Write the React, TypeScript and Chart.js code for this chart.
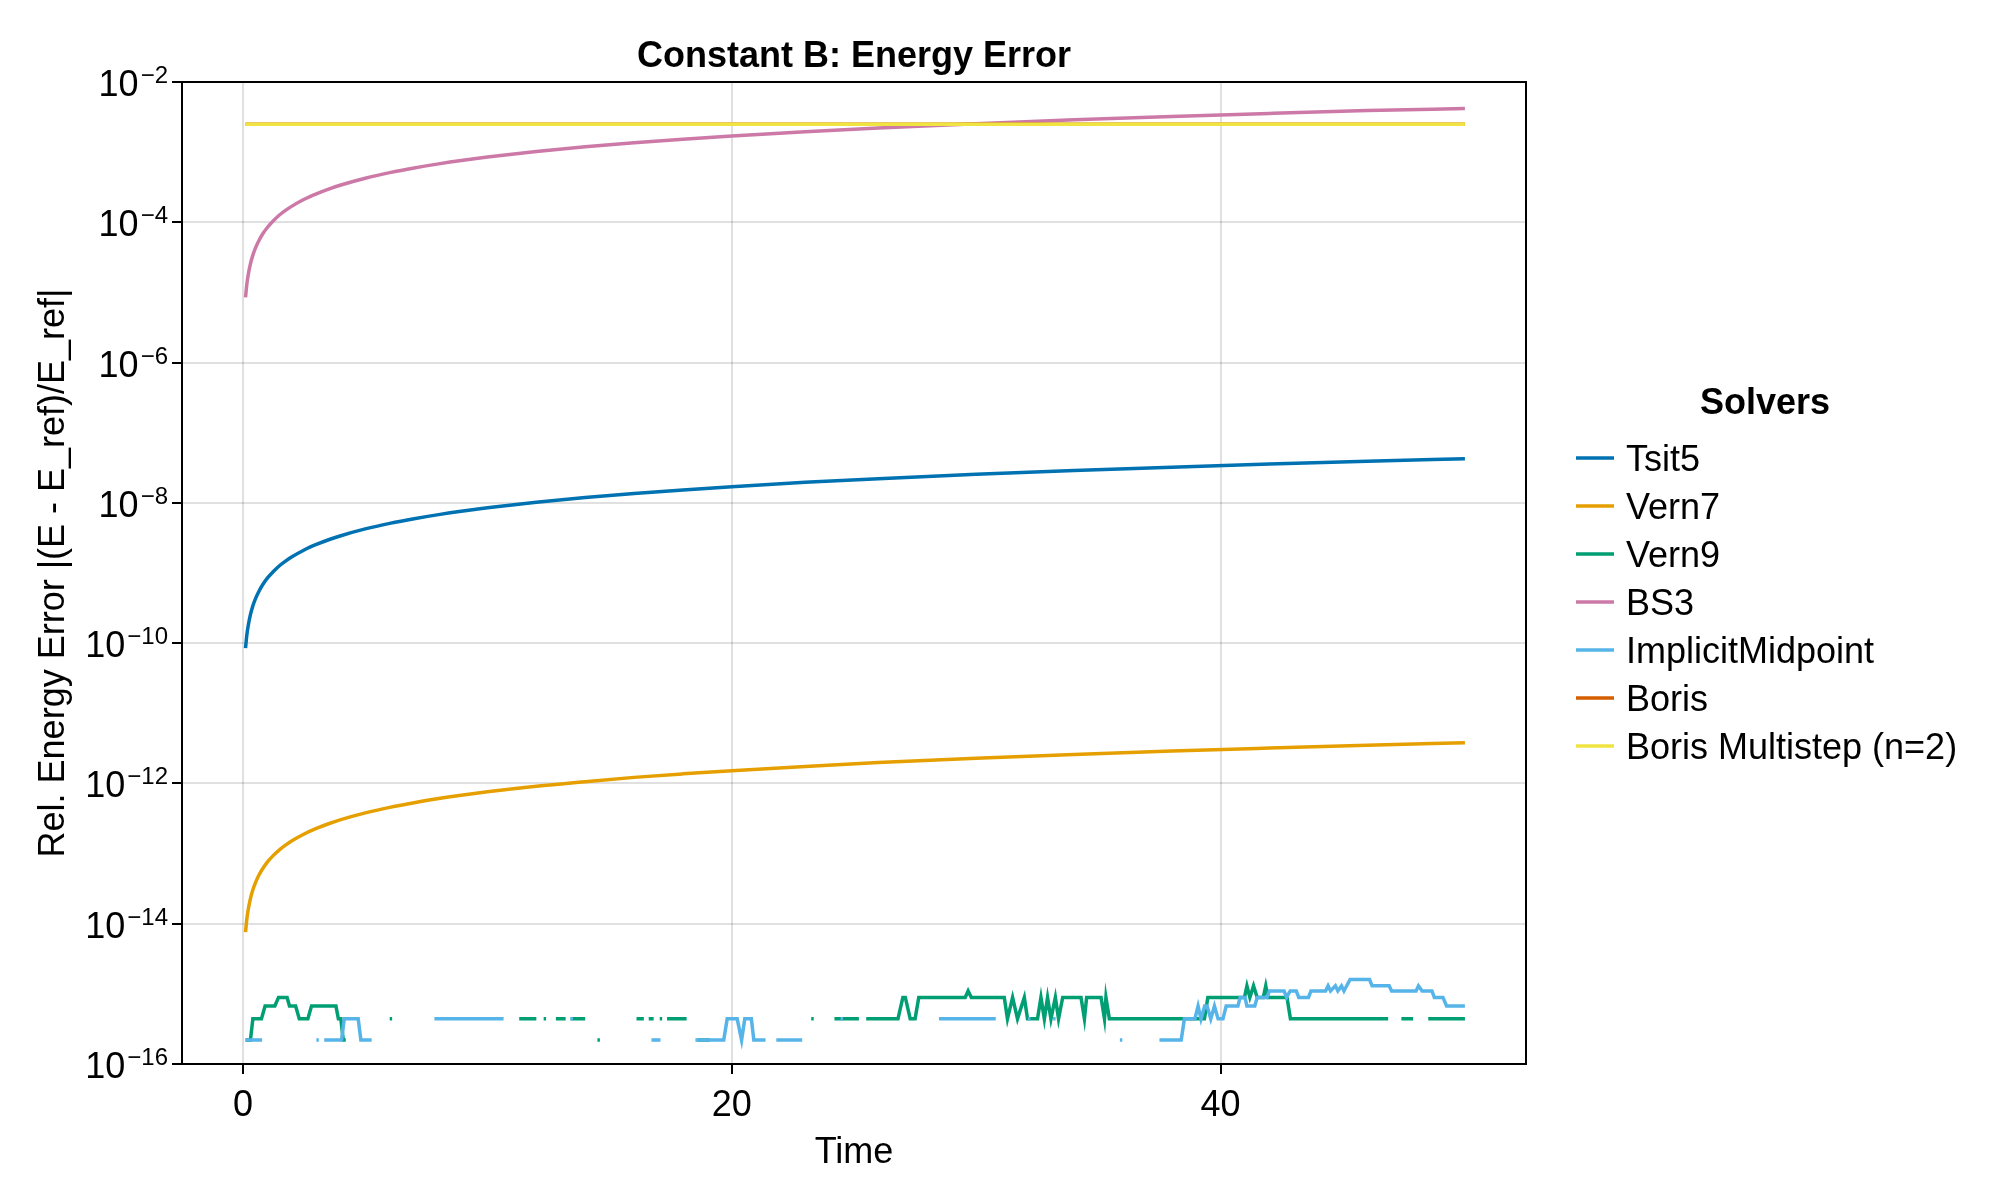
import React, { useEffect, useRef } from "react";
import { Chart, registerables } from "chart.js";

Chart.register(...registerables);

// ---------- data ----------
const tSmooth = [0.1, 0.15, 0.2, 0.3, 0.4, 0.5, 0.65, 0.8, 1, 1.25, 1.5, 1.75, 2, 2.5, 3, 3.5, 4, 5, 6, 7, 8, 9, 10, 12, 14, 16, 18, 20, 23, 26, 30, 34, 38, 42, 46, 50];
const tsit5 = [8.5e-11, 1.28e-10, 1.7e-10, 2.55e-10, 3.4e-10, 4.25e-10, 5.5e-10, 6.8e-10, 8.5e-10, 1.06e-9, 1.28e-9, 1.49e-9, 1.7e-9, 2.13e-9, 2.55e-9, 2.98e-9, 3.4e-9, 4.25e-9, 5.1e-9, 5.95e-9, 6.8e-9, 7.65e-9, 8.5e-9, 1.02e-8, 1.19e-8, 1.36e-8, 1.53e-8, 1.7e-8, 1.96e-8, 2.21e-8, 2.55e-8, 2.89e-8, 3.23e-8, 3.57e-8, 3.91e-8, 4.25e-8];
const vern7 = [7.6e-15, 1.14e-14, 1.52e-14, 2.28e-14, 3.04e-14, 3.8e-14, 4.94e-14, 6.08e-14, 7.6e-14, 9.5e-14, 1.14e-13, 1.33e-13, 1.52e-13, 1.9e-13, 2.28e-13, 2.66e-13, 3.04e-13, 3.8e-13, 4.56e-13, 5.32e-13, 6.08e-13, 6.84e-13, 7.6e-13, 9.12e-13, 1.06e-12, 1.22e-12, 1.37e-12, 1.52e-12, 1.75e-12, 1.98e-12, 2.28e-12, 2.58e-12, 2.89e-12, 3.19e-12, 3.5e-12, 3.8e-12];
const bs3 = [8.5e-6, 1.28e-5, 1.7e-5, 2.55e-5, 3.4e-5, 4.25e-5, 5.5e-5, 6.8e-5, 8.5e-5, 1.06e-4, 1.28e-4, 1.49e-4, 1.7e-4, 2.13e-4, 2.55e-4, 2.98e-4, 3.4e-4, 4.25e-4, 5.1e-4, 5.95e-4, 6.8e-4, 7.65e-4, 8.5e-4, 1.02e-3, 1.19e-3, 1.36e-3, 1.53e-3, 1.7e-3, 1.96e-3, 2.21e-3, 2.55e-3, 2.89e-3, 3.23e-3, 3.57e-3, 3.91e-3, 4.2e-3];

const tBoris = [0.1, 50];
const boris = [2.5e-3, 2.5e-3];
const borisMultistep = [2.5e-3, 2.5e-3];

const tVern9 = [0.1, 0.3, 0.4, 0.75, 0.9, 1.3, 1.45, 1.8, 1.9, 2.15, 2.3, 2.65, 2.8, 3.8, 3.9, 4.0, 4.1, 4.2, 4.3,
  6.0, 6.1, 6.2, 11.3, 12.0, 12.1, 12.3, 12.4, 12.5, 12.8, 13.2, 13.3, 13.4, 14.0, 14.1, 14.5, 14.6, 14.7,
  16.1, 16.4, 16.5, 16.6, 16.8, 16.9, 17.05, 17.15, 17.25, 17.35, 18.15, 18.25, 18.6, 19.1, 19.2,
  23.25, 23.35, 23.45, 24.2, 25.2, 25.3, 25.5, 26.8, 27.0, 27.1, 27.3, 27.5, 27.65, 29.55, 29.67, 29.8,
  31.15, 31.28, 31.49, 31.69, 31.97, 32.1, 32.51, 32.65, 32.79, 32.92, 33.06, 33.24, 33.37, 33.54,
  34.29, 34.43, 34.52, 35.11, 35.25, 35.31, 35.45, 39.34, 39.48, 40.98, 41.08, 41.2, 41.35, 41.5,
  41.75, 41.85, 41.94, 42.72, 42.86, 46.86, 46.96, 47.4, 47.88, 47.98, 48.5, 50.0];
const vern9 = [2.2e-16, 2.2e-16, 4.4e-16, 4.4e-16, 6.7e-16, 6.7e-16, 8.9e-16, 8.9e-16, 6.7e-16, 6.7e-16, 4.4e-16, 4.4e-16, 6.7e-16, 6.7e-16, 4.4e-16, 4.4e-16, 2.2e-16, 2.2e-16, null,
  4.4e-16, 4.4e-16, null, 4.4e-16, 4.4e-16, null, 4.4e-16, 4.4e-16, null, 4.4e-16, 4.4e-16, null, 4.4e-16, 4.4e-16, null, 2.2e-16, 2.2e-16, null,
  4.4e-16, 4.4e-16, null, 4.4e-16, 4.4e-16, null, 4.4e-16, 4.4e-16, null, 4.4e-16, 4.4e-16, null, 2.2e-16, 2.2e-16, null,
  4.4e-16, 4.4e-16, null, 4.4e-16, 4.4e-16, null, 4.4e-16, 4.4e-16, 8.9e-16, 8.9e-16, 4.4e-16, 4.4e-16, 8.9e-16, 8.9e-16, 1.1e-15, 8.9e-16,
  8.9e-16, 4.4e-16, 8.9e-16, 4.4e-16, 8.9e-16, 4.4e-16, 4.4e-16, 8.9e-16, 4.4e-16, 8.9e-16, 4.4e-16, 8.9e-16, 4.4e-16, 8.9e-16,
  8.9e-16, 4.4e-16, 8.9e-16, 8.9e-16, 4.4e-16, 8.9e-16, 4.4e-16, 4.4e-16, 8.9e-16, 8.9e-16, 1.3e-15, 8.9e-16, 1.3e-15, 8.9e-16,
  8.9e-16, 1.3e-15, 8.9e-16, 8.9e-16, 4.4e-16, 4.4e-16, null, 4.4e-16, 4.4e-16, null, 4.4e-16, 4.4e-16];

const tImplicit = [0.1, 0.78, 0.88, 3.0, 3.1, 3.2, 3.32, 4.03, 4.14, 4.71, 4.82, 5.26, 5.36, 7.83, 10.66, 10.76,
  13.4, 13.5, 13.6, 16.71, 17.08, 17.18, 18.51, 19.67, 19.81, 20.22, 20.4, 20.53, 20.8, 20.9, 21.38, 21.48,
  21.82, 22.88, 22.98, 24.45, 24.55, 24.65, 28.48, 30.8, 30.9, 32.12, 32.22, 32.32, 33.15, 33.25, 33.35,
  35.88, 35.98, 36.08, 37.5, 38.39, 38.52, 38.95, 39.08, 39.2, 39.35, 39.45, 39.6, 39.75, 39.9, 40.1,
  40.23, 40.71, 40.8, 41.0, 41.08, 41.4, 41.5, 41.9, 42.0, 42.6, 42.7, 42.85, 43.1, 43.2, 43.6, 43.7,
  44.3, 44.4, 44.5, 44.7, 44.8, 44.95, 45.05, 45.3, 46.1, 46.2, 46.9, 47.0, 48.0, 48.1, 48.25, 48.65,
  48.75, 49.1, 49.25, 50.0];
const implicitMidpoint = [2.2e-16, 2.2e-16, null, 2.2e-16, 2.2e-16, null, 2.2e-16, 2.2e-16, 4.4e-16, 4.4e-16, 2.2e-16, 2.2e-16, null, 4.4e-16, 4.4e-16, null,
  4.4e-16, 4.4e-16, null, 2.2e-16, 2.2e-16, null, 2.2e-16, 2.2e-16, 4.4e-16, 4.4e-16, 2.2e-16, 4.4e-16, 4.4e-16, 2.2e-16, 2.2e-16, null,
  2.2e-16, 2.2e-16, null, 4.4e-16, 4.4e-16, null, 4.4e-16, 4.4e-16, null, 4.4e-16, 4.4e-16, null, 4.4e-16, 4.4e-16, null,
  2.2e-16, 2.2e-16, null, 2.2e-16, 2.2e-16, 4.4e-16, 4.4e-16, 6.7e-16, 4.4e-16, 6.7e-16, 6.7e-16, 4.4e-16, 6.7e-16, 4.4e-16, 4.4e-16,
  6.7e-16, 6.7e-16, 8.9e-16, 8.9e-16, 6.7e-16, 6.7e-16, 8.9e-16, 8.9e-16, 1.1e-15, 1.1e-15, 8.9e-16, 1.1e-15, 1.1e-15, 8.9e-16, 8.9e-16, 1.1e-15,
  1.1e-15, 1.3e-15, 1.1e-15, 1.3e-15, 1.1e-15, 1.3e-15, 1.1e-15, 1.6e-15, 1.6e-15, 1.3e-15, 1.3e-15, 1.1e-15, 1.1e-15, 1.3e-15, 1.1e-15, 1.1e-15,
  8.9e-16, 8.9e-16, 6.7e-16, 6.7e-16];

const seriesNames = ["Tsit5", "Vern7", "Vern9", "BS3", "ImplicitMidpoint", "Boris", "Boris Multistep (n=2)"];
const seriesColors = ["#0072B2", "#E69F00", "#009E73", "#CC79A7", "#56B4E9", "#D55E00", "#F0E442"];

const xTicks = [0, 20, 40];
const yExponents = [-16, -14, -12, -10, -8, -6, -4, -2];

const titleText = "Constant B: Energy Error";
const xLabel = "Time";
const yLabel = "Rel. Energy Error |(E - E_ref)/E_ref|";
const legendTitle = "Solvers";

// ---------- helpers ----------
const FONT = "'Liberation Sans', Arial, Helvetica, sans-serif";

function zip(t: number[], v: (number | null)[]) {
  return t.map((x, i) => ({ x, y: v[i] }));
}

const decorPlugin = {
  id: "decor",
  afterDraw(chart: any) {
    const ctx = chart.ctx as CanvasRenderingContext2D;
    const ca = chart.chartArea;
    const xs = chart.scales.x;
    const ys = chart.scales.y;
    ctx.save();

    // frame
    ctx.strokeStyle = "#000";
    ctx.lineWidth = 2;
    ctx.strokeRect(ca.left, ca.top, ca.right - ca.left, ca.bottom - ca.top);

    ctx.fillStyle = "#000";
    // title
    ctx.font = `bold 36px ${FONT}`;
    ctx.textAlign = "center";
    ctx.textBaseline = "alphabetic";
    ctx.fillText(titleText, (ca.left + ca.right) / 2, 67);

    // x tick labels
    ctx.font = `36px ${FONT}`;
    xTicks.forEach((v) => {
      ctx.fillText(String(v), xs.getPixelForValue(v), 1116);
    });

    // x label
    ctx.fillText(xLabel, (ca.left + ca.right) / 2, 1163);

    // y tick labels 10^e
    const rightX = 168;
    yExponents.forEach((e) => {
      const y = ys.getPixelForValue(Math.pow(10, e));
      const sup = "\u2212" + String(-e);
      ctx.font = `24px ${FONT}`;
      ctx.textAlign = "right";
      const supW = ctx.measureText(sup).width;
      ctx.fillText(sup, rightX, y + 1);
      ctx.font = `36px ${FONT}`;
      ctx.fillText("10", rightX - supW - 2, y + 14);
    });

    // y label
    ctx.save();
    ctx.translate(54, (ca.top + ca.bottom) / 2);
    ctx.rotate(-Math.PI / 2);
    ctx.font = `36px ${FONT}`;
    ctx.textAlign = "center";
    ctx.textBaseline = "middle";
    ctx.fillText(yLabel, 0, 0);
    ctx.restore();

    // legend
    ctx.font = `bold 36px ${FONT}`;
    ctx.textAlign = "center";
    ctx.textBaseline = "alphabetic";
    ctx.fillText(legendTitle, 1765, 414);
    ctx.font = `36px ${FONT}`;
    ctx.textAlign = "left";
    seriesNames.forEach((name, i) => {
      const y = 458 + 48 * i;
      ctx.strokeStyle = seriesColors[i];
      ctx.lineWidth = 3.5;
      ctx.beginPath();
      ctx.moveTo(1576, y);
      ctx.lineTo(1614, y);
      ctx.stroke();
      ctx.fillStyle = "#000";
      ctx.fillText(name, 1626, y + 13);
    });

    ctx.restore();
  },
};

export default function App() {
  const ref = useRef<HTMLCanvasElement | null>(null);

  useEffect(() => {
    document.body.style.margin = "0";
    const canvas = ref.current;
    if (!canvas) return;

    const seriesData = [
      zip(tSmooth, tsit5),
      zip(tSmooth, vern7),
      zip(tVern9, vern9),
      zip(tSmooth, bs3),
      zip(tImplicit, implicitMidpoint),
      zip(tBoris, boris),
      zip(tBoris, borisMultistep),
    ];

    const smoothIdx = [0, 1, 3];
    const datasets = seriesData.map((d, i) => ({
      label: seriesNames[i],
      data: d,
      borderColor: seriesColors[i],
      backgroundColor: seriesColors[i],
      borderWidth: 3.5,
      pointRadius: 0,
      tension: smoothIdx.includes(i) ? 0.4 : 0,
      cubicInterpolationMode: smoothIdx.includes(i) ? "monotone" : "default",
      spanGaps: false,
      fill: false,
      order: seriesNames.length - i,
    }));

    const chart = new Chart(canvas, {
      type: "line",
      data: { datasets } as any,
      options: {
        animation: false,
        responsive: false,
        maintainAspectRatio: false,
        devicePixelRatio: 1,
        layout: { padding: { left: 0, right: 474, top: 82, bottom: 0 } },
        plugins: {
          legend: { display: false },
          title: { display: false },
          tooltip: { enabled: false },
        },
        scales: {
          x: {
            type: "linear",
            min: -2.5,
            max: 52.5,
            afterBuildTicks: (scale: any) => {
              scale.ticks = xTicks.map((v) => ({ value: v }));
            },
            afterFit: (scale: any) => {
              scale.height = 136;
            },
            ticks: { display: false },
            border: { display: false },
            grid: {
              color: "rgba(0,0,0,0.12)",
              lineWidth: 2,
              drawTicks: true,
              tickLength: 10,
              tickWidth: 2,
              tickColor: "#000",
            },
          },
          y: {
            type: "logarithmic",
            min: 1e-16,
            max: 1e-2,
            afterBuildTicks: (scale: any) => {
              scale.ticks = yExponents.map((e) => ({ value: Math.pow(10, e) }));
            },
            afterFit: (scale: any) => {
              scale.width = 182;
            },
            ticks: { display: false },
            border: { display: false },
            grid: {
              color: "rgba(0,0,0,0.12)",
              lineWidth: 2,
              drawTicks: true,
              tickLength: 10,
              tickWidth: 2,
              tickColor: "#000",
            },
          },
        },
      } as any,
      plugins: [decorPlugin],
    });

    return () => chart.destroy();
  }, []);

  return (
    <div style={{ width: 2000, height: 1200, background: "#fff" }}>
      <canvas ref={ref} width={2000} height={1200} style={{ display: "block", width: 2000, height: 1200 }} />
    </div>
  );
}
